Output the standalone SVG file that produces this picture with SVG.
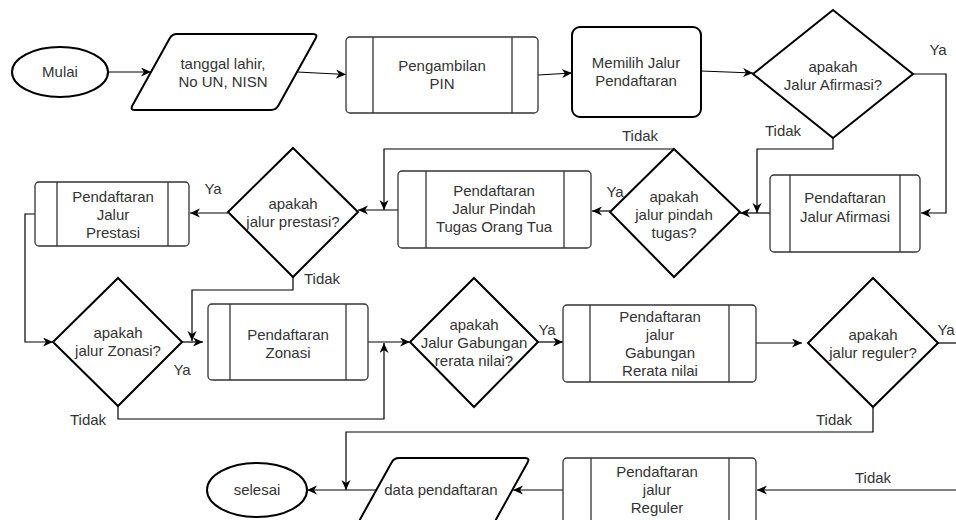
<svg xmlns="http://www.w3.org/2000/svg" width="956" height="520" viewBox="0 0 956 520">
<defs>
<style>
text{font-family:"Liberation Sans",Arial,sans-serif;font-size:15px;fill:#333;text-anchor:middle}
.b{fill:#fff;stroke:#000;stroke-width:2}
.p{fill:#fff;stroke:#333;stroke-width:1.3}
.pl{stroke:#333;stroke-width:1.3}
.c{fill:none;stroke:#000;stroke-width:1.2}
.a{marker-end:url(#ah)}
</style>
<marker id="ah" markerUnits="userSpaceOnUse" markerWidth="11" markerHeight="10" refX="10" refY="4.5" orient="auto">
<path d="M0,0 L10,4.5 L0,9 L3,4.5 Z" fill="#000"/>
</marker>
</defs>
<rect width="956" height="520" fill="#fff"/>

<g id="connectors">
<path class="c a" d="M108,72 L151,72"/>
<path class="c a" d="M297,72 L346,74.5"/>
<path class="c a" d="M538,75 L572,73"/>
<path class="c a" d="M701,71 L753,73"/>
<path class="c a" d="M913,74 L946,74 L946,213 L921,213"/>
<path class="c a" d="M833,138 L833,149 L757,149 L757,213"/>
<path class="c a" d="M770,213 L740,213"/>
<path class="c a" d="M610,211 L592,211"/>
<path class="c a" d="M674,149 L384,149 L384,210"/>
<path class="c a" d="M398,210 L358,210"/>
<path class="c a" d="M228,213 L190,213"/>
<path class="c a" d="M35,214 L25,214 L25,342 L53,342"/>
<path class="c a" d="M293,277 L293,290 L192,290 L192,341"/>
<path class="c a" d="M182,342 L203,342"/>
<path class="c a" d="M118,406 L118,419 L384,419 L384,343"/>
<path class="c a" d="M368,342 L410,342"/>
<path class="c a" d="M538,342 L563,342"/>
<path class="c a" d="M756,343 L802,343"/>
<path class="c" d="M938,343 L956,343"/>
<path class="c a" d="M873,407 L873,432 L346,432 L346,490"/>
<path class="c a" d="M956,490 L757,490"/>
<path class="c a" d="M563,490 L513,490"/>
<path class="c a" d="M376,490 L307,490"/>
</g>

<g id="labels">
<text x="938" y="55">Ya</text>
<text x="783" y="136">Tidak</text>
<text x="640" y="141">Tidak</text>
<text x="615" y="197">Ya</text>
<text x="213" y="194">Ya</text>
<text x="322" y="284">Tidak</text>
<text x="182" y="375">Ya</text>
<text x="88" y="425">Tidak</text>
<text x="547" y="335">Ya</text>
<text x="946" y="335">Ya</text>
<text x="834" y="425">Tidak</text>
<text x="873" y="483">Tidak</text>
</g>

<g id="mulai">
<ellipse class="b" cx="60" cy="72" rx="48" ry="25"/>
<text x="60" y="77">Mulai</text>
</g>

<g id="input-data">
<path class="b" d="M177,34 L313,34 Q318,34 315.6,38.4 L278.4,105.6 Q276,110 271,110 L135,110 Q130,110 132.4,105.6 L169.6,38.4 Q172,34 177,34 Z"/>
<text x="223" y="69">tanggal lahir,</text>
<text x="223" y="87">No UN, NISN</text>
</g>

<g id="pengambilan-pin">
<rect class="p" x="346" y="37" width="192" height="76" rx="4"/>
<line class="pl" x1="373" y1="37" x2="373" y2="113"/>
<line class="pl" x1="512" y1="37" x2="512" y2="113"/>
<text x="442" y="71">Pengambilan</text>
<text x="442" y="89">PIN</text>
</g>

<g id="memilih-jalur">
<rect class="b" x="572" y="27" width="129" height="90" rx="8"/>
<text x="636" y="68">Memilih Jalur</text>
<text x="636" y="86">Pendaftaran</text>
</g>

<g id="dec-afirmasi">
<path class="b" d="M833,10 L913,74 L833,138 L753,74 Z"/>
<text x="833" y="72">apakah</text>
<text x="833" y="90">Jalur Afirmasi?</text>
</g>

<g id="jalur-afirmasi">
<rect class="p" x="770" y="175" width="150" height="77" rx="4"/>
<line class="pl" x1="790" y1="175" x2="790" y2="252"/>
<line class="pl" x1="900" y1="175" x2="900" y2="252"/>
<text x="845" y="203">Pendaftaran</text>
<text x="845" y="222">Jalur Afirmasi</text>
</g>

<g id="dec-pindah">
<path class="b" d="M674,149 L740,212 L674,277 L610,212 Z"/>
<text x="674" y="202">apakah</text>
<text x="674" y="220">jalur pindah</text>
<text x="674" y="238">tugas?</text>
</g>

<g id="jalur-pindah">
<rect class="p" x="398" y="171" width="193" height="77" rx="4"/>
<line class="pl" x1="426" y1="171" x2="426" y2="248"/>
<line class="pl" x1="564" y1="171" x2="564" y2="248"/>
<text x="494" y="196">Pendaftaran</text>
<text x="494" y="214">Jalur Pindah</text>
<text x="494" y="232">Tugas Orang Tua</text>
</g>

<g id="dec-prestasi">
<path class="b" d="M293,148 L358,212 L293,277 L228,212 Z"/>
<text x="293" y="209">apakah</text>
<text x="293" y="227">jalur prestasi?</text>
</g>

<g id="jalur-prestasi">
<rect class="p" x="35" y="182" width="154" height="64" rx="4"/>
<line class="pl" x1="57" y1="182" x2="57" y2="246"/>
<line class="pl" x1="168" y1="182" x2="168" y2="246"/>
<text x="113" y="202">Pendaftaran</text>
<text x="113" y="220">Jalur</text>
<text x="113" y="238">Prestasi</text>
</g>

<g id="dec-zonasi">
<path class="b" d="M118,278 L182,342 L118,406 L53,342 Z"/>
<text x="118" y="338">apakah</text>
<text x="118" y="356">jalur Zonasi?</text>
</g>

<g id="jalur-zonasi">
<rect class="p" x="208" y="304" width="160" height="76" rx="4"/>
<line class="pl" x1="230" y1="304" x2="230" y2="380"/>
<line class="pl" x1="346" y1="304" x2="346" y2="380"/>
<text x="288" y="340">Pendaftaran</text>
<text x="288" y="358">Zonasi</text>
</g>

<g id="dec-gabungan">
<path class="b" d="M474,278 L538,342 L474,407 L410,342 Z"/>
<text x="474" y="330">apakah</text>
<text x="474" y="348">Jalur Gabungan</text>
<text x="474" y="366">rerata nilai?</text>
</g>

<g id="jalur-gabungan">
<rect class="p" x="563" y="305" width="193" height="77" rx="4"/>
<line class="pl" x1="590" y1="305" x2="590" y2="382"/>
<line class="pl" x1="729" y1="305" x2="729" y2="382"/>
<text x="660" y="322">Pendaftaran</text>
<text x="660" y="340">jalur</text>
<text x="660" y="358">Gabungan</text>
<text x="660" y="376">Rerata nilai</text>
</g>

<g id="dec-reguler">
<path class="b" d="M873,278 L938,343 L873,407 L808,343 Z"/>
<text x="873" y="340">apakah</text>
<text x="873" y="358">jalur reguler?</text>
</g>

<g id="jalur-reguler">
<rect class="p" x="563" y="458" width="193" height="77" rx="4"/>
<line class="pl" x1="591" y1="458" x2="591" y2="535"/>
<line class="pl" x1="729" y1="458" x2="729" y2="535"/>
<text x="657" y="477">Pendaftaran</text>
<text x="657" y="495">jalur</text>
<text x="657" y="513">Reguler</text>
</g>

<g id="data-pendaftaran">
<path class="b" d="M399,458 L525,458 Q530,458 527.6,462.4 L490.4,529.6 Q488,534 483,534 L357,534 Q352,534 354.4,529.6 L391.6,462.4 Q394,458 399,458 Z"/>
<text x="441" y="495">data pendaftaran</text>
</g>

<g id="selesai">
<ellipse class="b" cx="257" cy="490" rx="50" ry="27"/>
<text x="257" y="495">selesai</text>
</g>
</svg>
